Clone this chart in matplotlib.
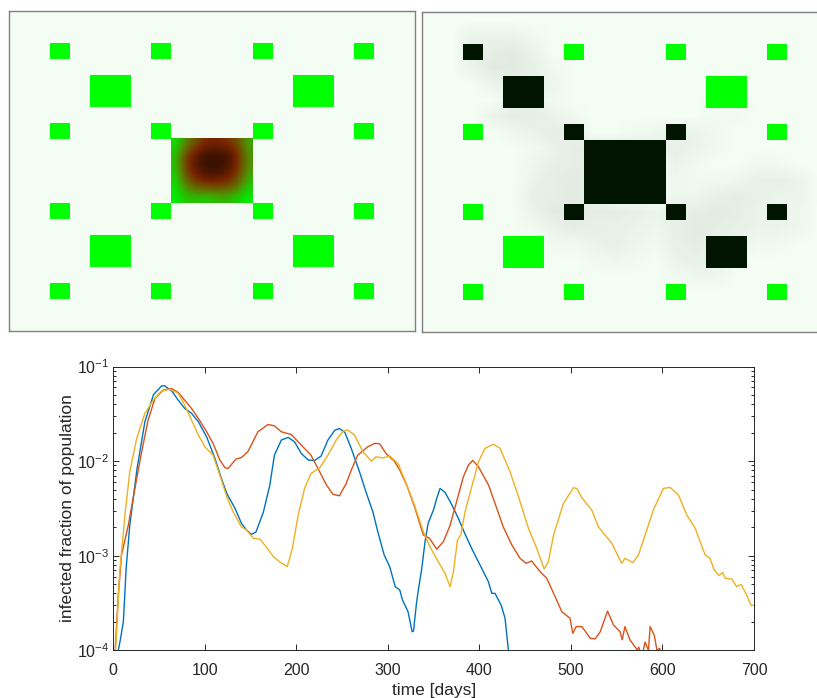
import numpy as np
import matplotlib
matplotlib.use('Agg')
import matplotlib.pyplot as plt
from matplotlib.colors import LinearSegmentedColormap
from matplotlib.patches import Rectangle
from matplotlib.ticker import LogLocator, NullFormatter

plt.rcParams['font.family'] = ['Liberation Sans', 'DejaVu Sans']
plt.rcParams['mathtext.default'] = 'regular'

# infected fraction
blue_t = [5.5,8,11,14,18,26,34.5,44,53,56,64,71,78,85.5,93,102,111,118,124,133,140,145.5,151,156,164,171,176,183.6,191,198,205.5,213,220,227,234.5,242,247,253,260,269,276,283.6,289,296,302,308,313,316,322,326.5,328,331,333,337,340.6,344,349.7,353.4,357,362.5,370,377,384,391.6,400.7,409.8,413.5,417,423.7,428,431.7,433]
blue_y = [1e-4,1.34e-4,2e-4,7.3e-4,2.1e-3,8.4e-3,.026,.0506,.0625,.0625,.055,.044,.036,.032,.026,.018,.0107,.0066,.00455,.00316,.0022,.00187,.00168,.00179,.0029,.00557,.01155,.0167,.0178,.016,.012,.01026,.01016,.0113,.0167,.0212,.0221,.0201,.0136,.0077,.00474,.0029,.00179,.001015,.000765,.000471,.000433,.00034,.000256,.000157,.00016,.000301,.000417,.00073,.00141,.0022,.00303,.00404,.00514,.00467,.00343,.00248,.00172,.00119,.000796,.000531,.0004,.0004,.000301,.000218,1e-4,5e-5]

red_t = [2,5.5,9,16.4,23.6,31,38,45.5,54.5,63.6,71,78,85.5,93,102,109,116.4,122,125.5,134,140,147,158,169,176,183.6,194.5,203.6,216,225.5,233,240,247,254.5,260,267,278,285.5,291,298,307,313,320.6,329.7,338.8,345.4,353.4,360.7,368,375,382.5,388,392.7,399,410,419,426,435.4,444.4,451,457,466.3,473.6,482.7,490,499,502,505.7,512,521,526.4,532,540,546.5,553.7,556,559,564.5,572.7,574,577,579,581,584.7,586.5,591,594,597,598]
red_y = [1e-4,3.85e-4,.00102,.0021,.00514,.01256,.0271,.0459,.0562,.0586,.0531,.044,.036,.0282,.0204,.0154,.01026,.0085,.00837,.0105,.0109,.01256,.0204,.0244,.0236,.0204,.0191,.0154,.01155,.0077,.00557,.00445,.0043,.0058,.00803,.01155,.01415,.0154,.01525,.012,.01,.00803,.00557,.00316,.00165,.00153,.00117,.00141,.0021,.00371,.00684,.00908,.01016,.0087,.00557,.00316,.00202,.0013,.000938,.00083,.00088,.000678,.000577,.000369,.000256,.000218,.000151,.000178,.000178,.000134,.000132,.000157,.00026,.000185,.000157,.000129,.000178,.000129,1e-4,1.08e-4,9e-5,1e-4,1.22e-4,1e-4,1.78e-4,1.45e-4,1e-4,1.05e-4,9e-5]

orange_t = [2.5,7,12.7,18,25.5,34.5,43.6,52.7,62,71,78,85.5,93,100,109,116.4,124,131,140,145.5,153,160,167,175,182.5,190,195.6,202,209,216,225.5,234.5,243.6,251,256,263.6,272.7,282,287,294.5,302,311,320,329,338.8,346,355,362.5,368,371.6,376,379.6,384.3,391.6,399,406,415.3,422.6,433.5,442.7,453.6,462.7,470.7,475.4,481,491.8,502.7,506.4,512,522.8,530,544.7,555.5,559,567.6,573.8,581,590,601,608.4,617.5,626.6,635.7,646.6,652,656.5,662,665.6,668.5,675.8,681,685.8,692,696.5,700]
orange_y = [1e-4,6.78e-4,.00269,.0077,.0173,.0319,.044,.055,.0576,.0519,.0391,.0271,.0188,.01415,.01155,.00711,.0042,.0029,.00202,.00187,.00153,.0015,.00124,.000975,.00085,.000766,.00119,.00269,.00514,.0074,.0085,.01155,.0167,.0207,.0214,.0188,.01256,.01,.0111,.0108,.0113,.00944,.00581,.00343,.00179,.00124,.000865,.00065,.00047,.000678,.00146,.00165,.0029,.00536,.00984,.0136,.0151,.0136,.0077,.0042,.00195,.00119,.000723,.000865,.00165,.00357,.00522,.00514,.0041,.00303,.00202,.00135,.00083,.000938,.000843,.00102,.00165,.00303,.00514,.00527,.00437,.00269,.00195,.00102,.000938,.000706,.000615,.000667,.000577,.000567,.000471,.000498,.000385,.000301,.000297]

x_ticks = [0,100,200,300,400,500,600,700]

# block positions on the 20x20 grid
small_cols = [2,7,12,17]
small_rows = [2,7,12,17]
large_cols = [4,14]
large_rows = [4,14]
center_block = (8,8,4)

# black blocks in the right panel
black_small = [(2,2),(7,7),(12,7),(7,12),(12,12),(17,12)]
black_large = [(4,4),(14,14)]

# infected share inside the centre block of the left panel, estimated by eye
left_density = [
    [.05,.30,.50,.65,.70,.60,.50,.20],
    [.12,.55,.80,.95,.90,.95,.65,.25],
    [.12,.60,.85,.95,.95,.90,.65,.25],
    [.08,.50,.70,.85,.85,.75,.55,.20],
    [.04,.30,.45,.50,.50,.50,.35,.10],
    [.00,.12,.12,.08,.15,.15,.08,.00],
]

# grey trail of removed people round the right panel blocks, estimated by eye
right_trail = [
    [0,0,0,0,0,0,0,0,0,0,0,0,0,0,0,0,0,0,0,0],
    [0,0,3,3,3,1,0,0,0,0,0,0,0,0,0,0,0,0,0,0],
    [0,0,4,5,6,3,0,0,0,0,0,0,0,0,0,0,0,0,0,0],
    [0,0,3,6,6,4,1,0,0,0,0,0,0,0,0,0,0,0,0,0],
    [0,0,0,3,4,4,2,0,0,0,0,0,0,0,0,0,0,0,0,0],
    [0,0,0,0,3,3,1,0,0,0,0,0,0,0,1,1,0,0,0,0],
    [0,0,0,3,5,5,3,1,0,0,0,0,0,0,1,1,0,0,0,0],
    [0,0,0,0,2,3,5,4,0,0,1,2,3,3,1,0,0,0,0,0],
    [0,0,0,0,0,1,3,5,5,5,5,4,4,3,1,0,0,0,0,0],
    [0,0,0,0,0,2,4,5,5,0,0,0,3,1,0,0,1,1,0,0],
    [0,0,0,0,0,3,5,6,4,0,0,0,2,1,1,2,4,4,3,0],
    [0,0,0,0,0,4,5,6,4,0,0,0,2,2,4,5,4,3,3,0],
    [0,0,0,0,0,3,6,6,5,5,4,3,4,5,6,5,3,3,2,0],
    [0,0,0,0,0,1,3,5,4,4,3,2,4,6,5,4,3,3,2,0],
    [0,0,0,0,0,0,1,1,3,4,2,1,4,5,4,3,1,1,0,0],
    [0,0,0,0,0,0,0,0,1,2,1,0,3,4,3,1,0,0,0,0],
    [0,0,0,0,0,0,0,0,0,0,0,0,1,2,2,0,0,0,0,0],
    [0,0,0,0,0,0,0,0,0,0,0,0,0,0,0,0,0,0,0,0],
    [0,0,0,0,0,0,0,0,0,0,0,0,0,0,0,0,0,0,0,0],
    [0,0,0,0,0,0,0,0,0,0,0,0,0,0,0,0,0,0,0,0],
]

W, H = 817, 698
fig = plt.figure(figsize=(W/100, H/100), dpi=100)


def px_axes(left, top, right, bottom):
    return fig.add_axes([left/W, 1-bottom/H, (right-left)/W, (bottom-top)/H])


def panel(left, top, right, bottom):
    ax = px_axes(left, top, right, bottom)
    ax.set_xlim(0, 20)
    ax.set_ylim(20, 0)
    ax.set_xticks([])
    ax.set_yticks([])
    ax.set_facecolor('#f3fdf3')
    for s in ax.spines.values():
        s.set_color('#808080')
        s.set_linewidth(1.0)
    return ax


def block(ax, col, row, size, color):
    ax.add_patch(Rectangle((col, row), size, size, fc=color, ec='none', zorder=3))


GREEN = '#00ff00'
DARK = '#001400'

# left panel
ax1 = panel(9, 11, 415, 331)
for c in small_cols:
    for r in small_rows:
        block(ax1, c, r, 1, GREEN)
for c in large_cols:
    for r in large_rows:
        block(ax1, c, r, 2, GREEN)
block(ax1, *center_block, GREEN)
infected = LinearSegmentedColormap.from_list('infected', ['#00f000', '#5f7a00', '#7a2400', '#2a0c00'])
ax1.imshow(left_density, cmap=infected, vmin=0, vmax=1, extent=(8, 12, 12, 8),
           interpolation='bicubic', aspect='auto', zorder=4)
ax1.set_xlim(0, 20)
ax1.set_ylim(20, 0)

# right panel, runs past the figure edge like the original
ax2 = panel(422, 12, 828, 332)
trail = np.array(right_trail, dtype=float)/6
rgba = np.zeros(trail.shape + (4,))
rgba[..., :3] = 0.55
rgba[..., 3] = trail*0.16
ax2.imshow(rgba, extent=(0, 20, 20, 0), interpolation='bilinear', aspect='auto', zorder=2)
ax2.set_xlim(0, 20)
ax2.set_ylim(20, 0)
for c in small_cols:
    for r in small_rows:
        block(ax2, c, r, 1, DARK if (c, r) in black_small else GREEN)
for c in large_cols:
    for r in large_rows:
        block(ax2, c, r, 2, DARK if (c, r) in black_large else GREEN)
block(ax2, *center_block, DARK)

# time series
ax3 = px_axes(113.3, 366.5, 754, 650.3)
ax3.semilogy(blue_t, blue_y, color='#0072BD', lw=1.0)
ax3.semilogy(red_t, red_y, color='#D95319', lw=1.0)
ax3.semilogy(orange_t, orange_y, color='#EDB120', lw=1.0)
ax3.set_xlim(0, 700)
ax3.set_ylim(1e-4, 1e-1)
ax3.set_xticks(x_ticks)
ax3.yaxis.set_major_locator(LogLocator(base=10, numticks=6))
ax3.yaxis.set_minor_locator(LogLocator(base=10, subs=np.arange(2, 10), numticks=12))
ax3.yaxis.set_minor_formatter(NullFormatter())
ax3.tick_params(which='major', direction='in', top=True, right=True, length=4.5, width=0.7,
                color='#262626', labelcolor='#262626', labelsize=11.5)
ax3.tick_params(axis='x', which='major', pad=9)
ax3.tick_params(axis='y', which='major', pad=3)
ax3.tick_params(which='minor', direction='in', top=False, right=True, length=2.5, width=0.7, color='#262626')
for s in ax3.spines.values():
    s.set_color('#262626')
    s.set_linewidth(0.7)
ax3.set_xlabel('time [days]', fontsize=12.5, color='#262626', labelpad=4)
ax3.set_ylabel('infected fraction of population', fontsize=12.5, color='#262626', labelpad=1.5)

fig.savefig('out.png', dpi=100)
